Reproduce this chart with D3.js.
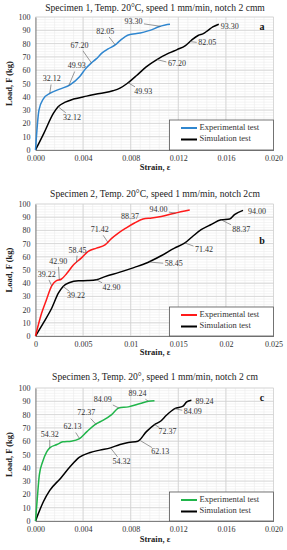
<!DOCTYPE html>
<meta charset="utf-8">
<style>
  body { margin: 0; background: #fff; }
  text { font-family: "Liberation Serif", "Times New Roman", serif; }
</style>
<script src="https://d3js.org/d3.v7.min.js"></script>
<body>
<script>

// ---- data (strain, load) ----
var titles = [
  "Specimen 1, Temp. 20\u00b0C, speed 1 mm/min, notch 2 cmm",
  "Specimen 2, Temp. 20\u00b0C, speed 1 mm/min, notch 2cm",
  "Specimen 3, Temp. 20\u00b0, speed 1 mm/min, notch 2 cm"
];
var panelLetters = ["a", "b", "c"];
var seriesNames = ["Experimental test", "Simulation test"];
var expColors = ["#2f86cf", "#ff1a1a", "#20b54a"];

var yTicks = [0, 10, 20, 30, 40, 50, 60, 70, 80, 90, 100];
var xTicks1 = [0, 0.004, 0.008, 0.012, 0.016, 0.020];
var xTicks2 = [0, 0.005, 0.01, 0.015, 0.02, 0.025];
var xTicks3 = [0, 0.004, 0.008, 0.012, 0.016, 0.020];

var exp1 = [[0,0],[0.00029,30],[0.00066,38.5],[0.0012,42.5],[0.0021,46],[0.0029,49],
  [0.0037,55],[0.0042,61],[0.0047,65.5],[0.0051,68.5],[0.0056,73],[0.0061,76],
  [0.0067,79],[0.0072,83],[0.0078,86.5],[0.0088,88],[0.0098,90.5],[0.0103,92.5],
  [0.0109,94],[0.0113,94.5]];
var sim1 = [[0,0],[0.0007,12.5],[0.0015,27.5],[0.0019,32.5],[0.0025,36],[0.0032,38.3],
  [0.0043,40.5],[0.0054,42.5],[0.0065,44.5],[0.0071,46.5],[0.0077,50],[0.0085,56],
  [0.0093,62.5],[0.0102,68],[0.0112,72.8],[0.0119,75.5],[0.0126,78.5],[0.0131,82.5],
  [0.0137,86.3],[0.0141,87.5],[0.0145,90],[0.0149,92.5],[0.0154,94.5]];

var exp2 = [[0,0],[0.00063,17],[0.00115,27.5],[0.0017,38],[0.0022,42],[0.0027,43],
  [0.0033,47.5],[0.0040,54],[0.0048,59],[0.0055,64],[0.0064,66.6],[0.0073,69],
  [0.0080,74],[0.0087,78],[0.0095,81.8],[0.0104,85.6],[0.0113,88.6],[0.0122,89.4],
  [0.0132,90.6],[0.0146,93],[0.0162,95.5]];
var sim2 = [[0,0],[0.0008,9.6],[0.0017,21],[0.0024,32.4],[0.0029,37.5],[0.0036,40.5],
  [0.0045,41.8],[0.0055,42],[0.0064,42.6],[0.0073,45],[0.0087,48],[0.0104,52],
  [0.0118,55.7],[0.0132,60.8],[0.0146,66.6],[0.0157,70.5],[0.0165,75.4],[0.0174,80.5],
  [0.0184,84.3],[0.0195,88],[0.0204,88.6],[0.0209,91.9],[0.0218,95.2]];

var exp3 = [[0,0],[0.00015,17],[0.00032,34.5],[0.0006,44.5],[0.00094,52],[0.0012,55],
  [0.0018,57.5],[0.0023,59.5],[0.0030,60],[0.0037,62],[0.0043,67],[0.0050,72.5],
  [0.0057,75.8],[0.0064,80],[0.0070,85],[0.0078,85.8],[0.0088,88.3],[0.0095,90],
  [0.0100,90.5]];
var sim3 = [[0,0],[0.00066,14.5],[0.0012,23],[0.0021,32],[0.0029,40.8],[0.0037,48],
  [0.0046,51.5],[0.0054,53.3],[0.0063,55],[0.0071,57.5],[0.0078,59],[0.0086,60],
  [0.0093,67],[0.0100,72.5],[0.0105,75],[0.0110,79.5],[0.0117,84.5],[0.0124,86.3],
  [0.0127,89.5],[0.0131,90.8]];

// point labels: text and the curve point the leader goes to
var expLabels1 = [["32.12",0.0012,42.5],["49.93",0.0028,48.5],["67.20",0.0047,65.5],["82.05",0.0067,79],["93.30",0.0105,93]];
var simLabels1 = [["32.12",0.0019,32.5],["49.93",0.0078,50.5],["67.20",0.0102,68],["82.05",0.0130,81.5],["93.30",0.0154,94.5]];
var expLabels2 = [["39.22",0.0017,38],["42.90",0.0025,42.5],["58.45",0.0043,55.5],["71.42",0.0076,71],["88.37",0.0113,88.6],["94.00",0.0147,93]];
var simLabels2 = [["39.22",0.0029,37.5],["42.90",0.0064,42.6],["58.45",0.0120,56],["71.42",0.0157,70.5],["88.37",0.0195,88],["94.00",0.0218,95.2]];
var expLabels3 = [["54.32",0.0012,55],["62.13",0.0037,62],["72.37",0.0051,72.5],["84.09",0.0070,85],["89.24",0.0095,90]];
var simLabels3 = [["54.32",0.0063,55],["62.13",0.0088,60.5],["72.37",0.0100,72.5],["84.09",0.0117,84.5],["89.24",0.0131,90.8]];

// label offsets (px) of label centre from its curve point
var offs1e = [[2,-14],[8,-19],[-12,-17],[-10,-13],[-27,-4]];
var offs1s = [[14,11],[15,9],[20,5],[17,2],[11,3]];
var offs2e = [[-5,-11],[-1,-18],[1,-12],[-8,-12],[-13,-2],[-17,-3]];
var offs2s = [[13,10],[15,8],[24,2],[19,7],[20,10],[14,2]];
var offs3e = [[0,-13],[-7,-11],[-10,-11],[-16,-8],[-11,-7]];
var offs3s = [[11,14],[20,12],[13,8],[18,4],[13,2]];

var W = 287, H = 550;
var svg = d3.select("body").append("svg").attr("width", W).attr("height", H);

var panels = [
  {top: 17, bottom: 150, xMax: 0.020, xTicks: xTicks1, xFmt: d3.format(".3f"), exp: exp1, sim: sim1,
   expL: expLabels1, simL: simLabels1, eo: offs1e, so: offs1s, title: 9, xlab: 168, legTop: 120},
  {top: 204, bottom: 336, xMax: 0.025, xTicks: xTicks2, xFmt: function(d){ return d === 0 ? "0" : String(+d.toFixed(3)); },
   exp: exp2, sim: sim2, expL: expLabels2, simL: simLabels2, eo: offs2e, so: offs2s, title: 195, xlab: 353, legTop: 307},
  {top: 388, bottom: 521, xMax: 0.020, xTicks: xTicks3, xFmt: d3.format(".3f"), exp: exp3, sim: sim3,
   expL: expLabels3, simL: simLabels3, eo: offs3e, so: offs3s, title: 378, xlab: 540, legTop: 492}
];

var left = 35.5, right = 273.5;

panels.forEach(function(p, i) {
  var x = d3.scaleLinear().domain([0, p.xMax]).range([left, right]);
  var y = d3.scaleLinear().domain([0, 100]).range([p.bottom, p.top]);
  var g = svg.append("g");

  // minor grid
  var minorX = d3.range(0, p.xMax + 1e-9, p.xMax / 25);
  var minorY = d3.range(0, 100.01, 2);
  g.selectAll(".mx").data(minorX).enter().append("line")
    .attr("x1", x).attr("x2", x).attr("y1", p.top).attr("y2", p.bottom)
    .attr("stroke", "#ececec").attr("stroke-width", 0.6);
  g.selectAll(".my").data(minorY).enter().append("line")
    .attr("x1", left).attr("x2", right).attr("y1", y).attr("y2", y)
    .attr("stroke", "#ececec").attr("stroke-width", 0.6);
  // major grid
  g.selectAll(".gx").data(p.xTicks).enter().append("line")
    .attr("x1", x).attr("x2", x).attr("y1", p.top).attr("y2", p.bottom)
    .attr("stroke", "#d0d0d0").attr("stroke-width", 0.8);
  g.selectAll(".gy").data(yTicks).enter().append("line")
    .attr("x1", left).attr("x2", right).attr("y1", y).attr("y2", y)
    .attr("stroke", "#d0d0d0").attr("stroke-width", 0.8);

  // axes
  var xa = g.append("g").attr("transform", "translate(0," + p.bottom + ")")
    .call(d3.axisBottom(x).tickValues(p.xTicks).tickFormat(p.xFmt).tickSize(0).tickPadding(5));
  var ya = g.append("g").attr("transform", "translate(" + left + ",0)")
    .call(d3.axisLeft(y).tickValues(yTicks).tickSize(0).tickPadding(5));
  [xa, ya].forEach(function(a) {
    a.select(".domain").attr("stroke", "#808080").attr("stroke-width", 1);
    a.selectAll("text").attr("font-size", 8).attr("fill", "#333")
      .attr("font-family", "Liberation Serif, serif");
  });

  // title and axis labels
  g.append("text").attr("x", 155).attr("y", p.title).attr("text-anchor", "middle")
    .attr("dominant-baseline", "middle").attr("font-size", 9.6).attr("fill", "#222").text(titles[i]);
  g.append("text").attr("x", 155).attr("y", p.xlab).attr("text-anchor", "middle")
    .attr("dominant-baseline", "middle").attr("font-size", 8.5).attr("font-weight", "bold")
    .attr("fill", "#222").text("Strain, \u03b5");
  g.append("text").attr("transform", "translate(10," + ((p.top + p.bottom) / 2) + ") rotate(-90)")
    .attr("text-anchor", "middle").attr("dominant-baseline", "middle").attr("font-size", 8.5)
    .attr("font-weight", "bold").attr("fill", "#222").text("Load, F (kg)");
  g.append("text").attr("x", 262).attr("y", p.top + (i === 1 ? 38 : 11)).attr("text-anchor", "middle")
    .attr("dominant-baseline", "middle").attr("font-size", 10).attr("font-weight", "bold")
    .attr("fill", "#111").text(panelLetters[i]);

  // curves
  var line = d3.line().x(function(d){ return x(d[0]); }).y(function(d){ return y(d[1]); })
    .curve(d3.curveMonotoneX);
  g.append("path").datum(p.sim).attr("d", line).attr("fill", "none")
    .attr("stroke", "#000").attr("stroke-width", 1.5);
  g.append("path").datum(p.exp).attr("d", line).attr("fill", "none")
    .attr("stroke", expColors[i]).attr("stroke-width", 1.5);

  // point labels with leader lines clipped at the label box
  function labels(list, offs) {
    list.forEach(function(l, k) {
      var px = x(l[1]), py = y(l[2]);
      var lx = px + offs[k][0], ly = py + offs[k][1];
      var dx = px - lx, dy = py - ly;
      var t = Math.min(dx === 0 ? 1e9 : 10.5 / Math.abs(dx), dy === 0 ? 1e9 : 5 / Math.abs(dy));
      if (t < 0.75) {
        g.append("line").attr("x1", lx + dx * t).attr("y1", ly + dy * t)
          .attr("x2", px).attr("y2", py)
          .attr("stroke", "#555").attr("stroke-width", 0.6);
      }
      g.append("text").attr("x", lx).attr("y", ly).attr("text-anchor", "middle")
        .attr("dominant-baseline", "middle").attr("font-size", 8).attr("fill", "#333")
        .text(l[0]);
    });
  }
  labels(p.expL, p.eo);
  labels(p.simL, p.so);

  // legend
  var lg = g.append("g");
  lg.append("rect").attr("x", 169.5).attr("y", p.legTop).attr("width", right - 169.5)
    .attr("height", p.bottom - p.legTop).attr("fill", "#fff").attr("stroke", "#555").attr("stroke-width", 0.8);
  [expColors[i], "#000"].forEach(function(c, k) {
    var ly = p.legTop + 8 + k * 11.5;
    lg.append("line").attr("x1", 181).attr("x2", 197).attr("y1", ly).attr("y2", ly)
      .attr("stroke", c).attr("stroke-width", 2);
    lg.append("text").attr("x", 199.5).attr("y", ly).attr("dominant-baseline", "middle")
      .attr("font-size", 8.5).attr("fill", "#333").text(seriesNames[k]);
  });
});

</script>
